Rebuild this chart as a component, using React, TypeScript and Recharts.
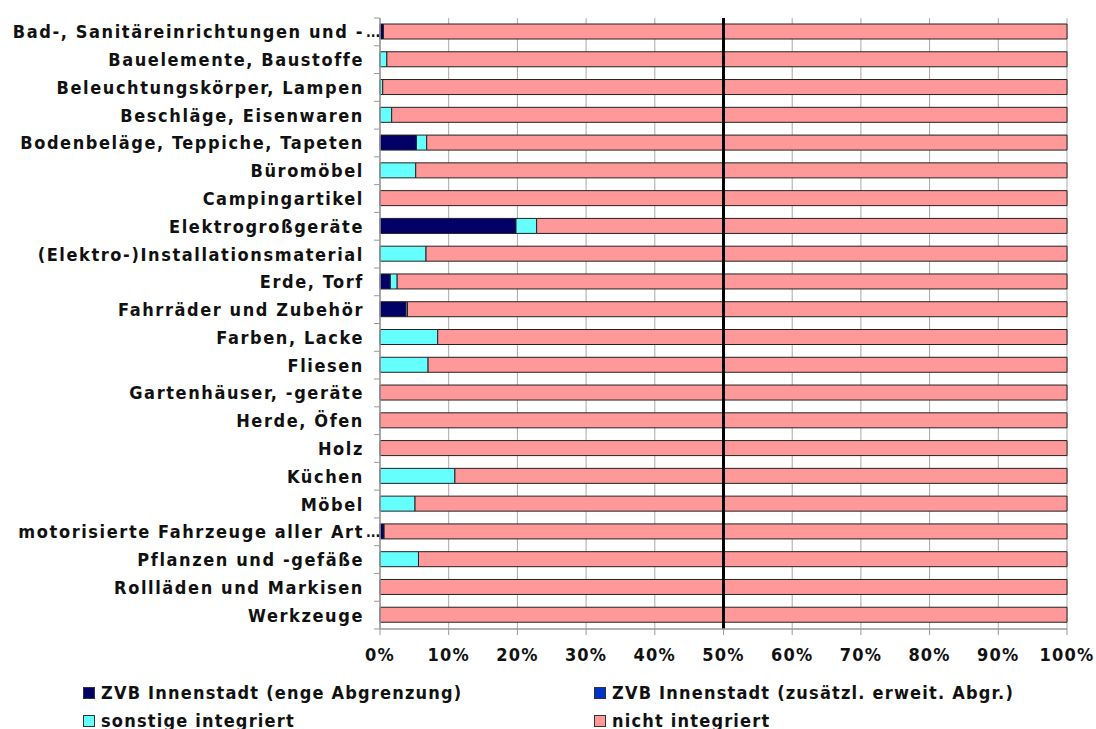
import React from "react";
import {
  BarChart,
  Bar,
  XAxis,
  YAxis,
  CartesianGrid,
  ReferenceLine,
} from "recharts";

const categories = [
  "Bad-, Sanitäreinrichtungen und -...",
  "Bauelemente, Baustoffe",
  "Beleuchtungskörper, Lampen",
  "Beschläge, Eisenwaren",
  "Bodenbeläge, Teppiche, Tapeten",
  "Büromöbel",
  "Campingartikel",
  "Elektrogroßgeräte",
  "(Elektro-)Installationsmaterial",
  "Erde, Torf",
  "Fahrräder und Zubehör",
  "Farben, Lacke",
  "Fliesen",
  "Gartenhäuser, -geräte",
  "Herde, Öfen",
  "Holz",
  "Küchen",
  "Möbel",
  "motorisierte Fahrzeuge aller Art...",
  "Pflanzen und -gefäße",
  "Rollläden und Markisen",
  "Werkzeuge",
];

const zvbEng = [0.5, 0, 0, 0, 5.3, 0, 0, 19.8, 0, 1.5, 3.8, 0, 0, 0, 0, 0, 0, 0, 0.6, 0, 0, 0];
const zvbErweit = [0, 0, 0, 0, 0, 0, 0, 0, 0, 0, 0, 0, 0, 0, 0, 0, 0, 0, 0, 0, 0, 0];
const sonstige = [0, 1.0, 0.4, 1.7, 1.5, 5.2, 0, 3.0, 6.7, 1.0, 0.2, 8.4, 7.0, 0, 0, 0, 10.9, 5.1, 0, 5.6, 0, 0];
const nicht = [99.5, 99.0, 99.6, 98.3, 93.2, 94.8, 100, 77.2, 93.3, 97.5, 96.0, 91.6, 93.0, 100, 100, 100, 89.1, 94.9, 99.4, 94.4, 100, 100];

const xTicks = [0, 10, 20, 30, 40, 50, 60, 70, 80, 90, 100];

const seriesNames = [
  "ZVB Innenstadt (enge Abgrenzung)",
  "ZVB Innenstadt (zusätzl. erweit. Abgr.)",
  "sonstige integriert",
  "nicht integriert",
];
const seriesColors = ["#000066", "#0033CC", "#66FFFF", "#FF9999"];

const data = categories.map((c, i) => ({
  name: c,
  zvbEng: zvbEng[i],
  zvbErweit: zvbErweit[i],
  sonstige: sonstige[i],
  nicht: nicht[i],
}));

const CHART_W = 1096;
const CHART_H = 729;
const MARGIN = { top: 18, right: 29, left: 0, bottom: 70 };
const X_AXIS_H = 30;
const BAND = (CHART_H - MARGIN.top - MARGIN.bottom - X_AXIS_H) / categories.length;

const FONT = "'DejaVu Sans Condensed', 'DejaVu Sans', sans-serif";
const textStyle: React.CSSProperties = {
  fontFamily: FONT,
  fontStretch: "condensed",
  fontWeight: 700,
  fontSize: 18,
  letterSpacing: 1.2,
};
const catStyle: React.CSSProperties = { ...textStyle, letterSpacing: 1.6 };

const CategoryTick = (props: any) => {
  const { x, y, payload, index } = props;
  const label: string = payload.value;
  const truncated = label.endsWith("...");
  const main = truncated ? label.slice(0, -3) : label;
  const axisX = x + 16;
  const last = index === categories.length - 1;
  return (
    <g>
      <line x1={axisX - 6} x2={axisX} y1={y - BAND / 2} y2={y - BAND / 2} stroke="#999" />
      {last && (
        <line x1={axisX - 6} x2={axisX} y1={y + BAND / 2} y2={y + BAND / 2} stroke="#999" />
      )}
      <text
        x={x}
        y={y}
        textAnchor="end"
        dominantBaseline="central"
        fill="#111"
        style={catStyle}
      >
        {main}
      </text>
      {truncated && (
        <text
          x={x + 2}
          y={y}
          textAnchor="start"
          dominantBaseline="central"
          fill="#111"
          style={{ ...textStyle, fontSize: 14, letterSpacing: 0 }}
        >
          ...
        </text>
      )}
    </g>
  );
};

const legendPos = [
  { left: 83, top: 686 },
  { left: 594, top: 686 },
  { left: 83, top: 714 },
  { left: 594, top: 714 },
];

export default function App() {
  return (
    <div style={{ position: "absolute", left: 0, top: 0, width: CHART_W, height: CHART_H, background: "#fff" }}>
      <BarChart
        width={CHART_W}
        height={CHART_H}
        data={data}
        layout="vertical"
        margin={MARGIN}
        barSize={15}
      >
        <CartesianGrid horizontal={false} stroke="#a8a8a8" strokeWidth={1} />
        <XAxis
          type="number"
          domain={[0, 100]}
          ticks={xTicks}
          tickFormatter={(v: number) => `${v}%`}
          interval={0}
          height={X_AXIS_H}
          axisLine={{ stroke: "#999", strokeWidth: 1.5 }}
          tickLine={{ stroke: "#999" }}
          tickSize={6}
          tickMargin={13}
          tick={{ fill: "#111", style: textStyle }}
        />
        <YAxis
          type="category"
          dataKey="name"
          width={380}
          interval={0}
          axisLine={{ stroke: "#999", strokeWidth: 1.5 }}
          tickLine={false}
          tickSize={0}
          tickMargin={16}
          tick={<CategoryTick />}
        />
        <Bar dataKey="zvbEng" name={seriesNames[0]} stackId="a" fill={seriesColors[0]} stroke="#222" strokeWidth={1} isAnimationActive={false} />
        <Bar dataKey="zvbErweit" name={seriesNames[1]} stackId="a" fill={seriesColors[1]} stroke="#222" strokeWidth={1} isAnimationActive={false} />
        <Bar dataKey="sonstige" name={seriesNames[2]} stackId="a" fill={seriesColors[2]} stroke="#222" strokeWidth={1} isAnimationActive={false} />
        <Bar dataKey="nicht" name={seriesNames[3]} stackId="a" fill={seriesColors[3]} stroke="#222" strokeWidth={1} isAnimationActive={false} />
        <ReferenceLine x={50} stroke="#000" strokeWidth={3} />
      </BarChart>
      {seriesNames.map((n, i) => (
        <div
          key={n}
          style={{
            position: "absolute",
            left: legendPos[i].left,
            top: legendPos[i].top,
            display: "flex",
            alignItems: "center",
            whiteSpace: "nowrap",
            ...textStyle,
            color: "#111",
            lineHeight: "14px",
          }}
        >
          <span
            style={{
              display: "inline-block",
              width: 10,
              height: 10,
              background: seriesColors[i],
              border: "1px solid #333",
              marginRight: 6,
            }}
          />
          <span>{n}</span>
        </div>
      ))}
    </div>
  );
}
